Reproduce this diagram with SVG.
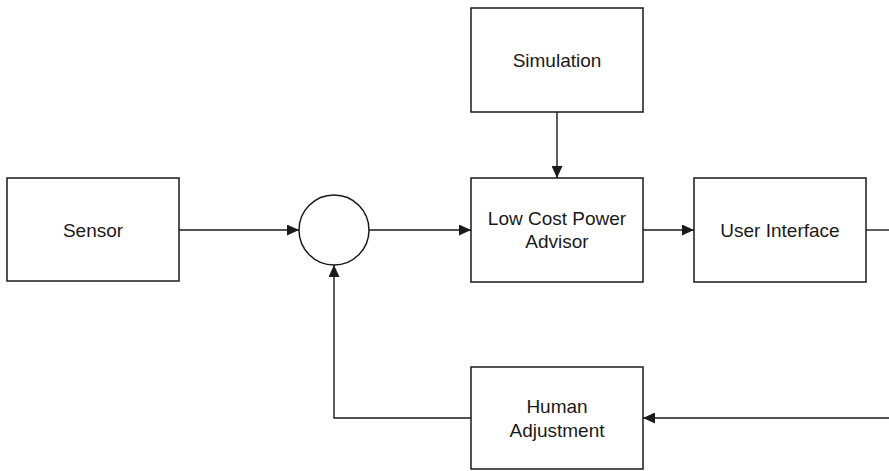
<svg xmlns="http://www.w3.org/2000/svg" width="889" height="471" viewBox="0 0 889 471">
<style>
.box{fill:#fff;stroke:#1a1a1a;stroke-width:1.5}
.lbl{font-family:"Liberation Sans",Arial,sans-serif;font-size:19px;fill:#1a1a1a;text-anchor:middle}
.wire{fill:none;stroke:#1a1a1a;stroke-width:1.4}
</style>
<defs>
<marker id="arr" viewBox="0 0 12 11" refX="12" refY="5.5" markerWidth="12" markerHeight="11" markerUnits="userSpaceOnUse" orient="auto">
<path d="M0,0 L12,5.5 L0,11 Z" fill="#1a1a1a"/>
</marker>
</defs>
<rect width="889" height="471" fill="#fff"/>
<g id="connectors">
<path class="wire" d="M179,230 H299" marker-end="url(#arr)"/>
<path class="wire" d="M369,230 H471" marker-end="url(#arr)"/>
<path class="wire" d="M557,112 V178" marker-end="url(#arr)"/>
<path class="wire" d="M643,230 H694" marker-end="url(#arr)"/>
<path class="wire" d="M866,230 H889"/>
<path class="wire" d="M889,418 H643" marker-end="url(#arr)"/>
<path class="wire" d="M471,418 H334 V265" marker-end="url(#arr)"/>
</g>
<g id="sensor">
<rect class="box" x="7" y="178" width="172" height="103"/>
<text class="lbl" x="93" y="237">Sensor</text>
</g>
<g id="junction">
<circle class="box" cx="334" cy="230" r="35"/>
</g>
<g id="simulation">
<rect class="box" x="471" y="8" width="172" height="104"/>
<text class="lbl" x="557" y="67">Simulation</text>
</g>
<g id="advisor">
<rect class="box" x="471" y="178" width="172" height="104"/>
<text class="lbl" x="557" y="225">Low Cost Power</text>
<text class="lbl" x="557" y="248">Advisor</text>
</g>
<g id="ui">
<rect class="box" x="694" y="178" width="172" height="104"/>
<text class="lbl" x="780" y="237">User Interface</text>
</g>
<g id="human">
<rect class="box" x="471" y="367" width="172" height="102"/>
<text class="lbl" x="557" y="413">Human</text>
<text class="lbl" x="557" y="437">Adjustment</text>
</g>
</svg>
